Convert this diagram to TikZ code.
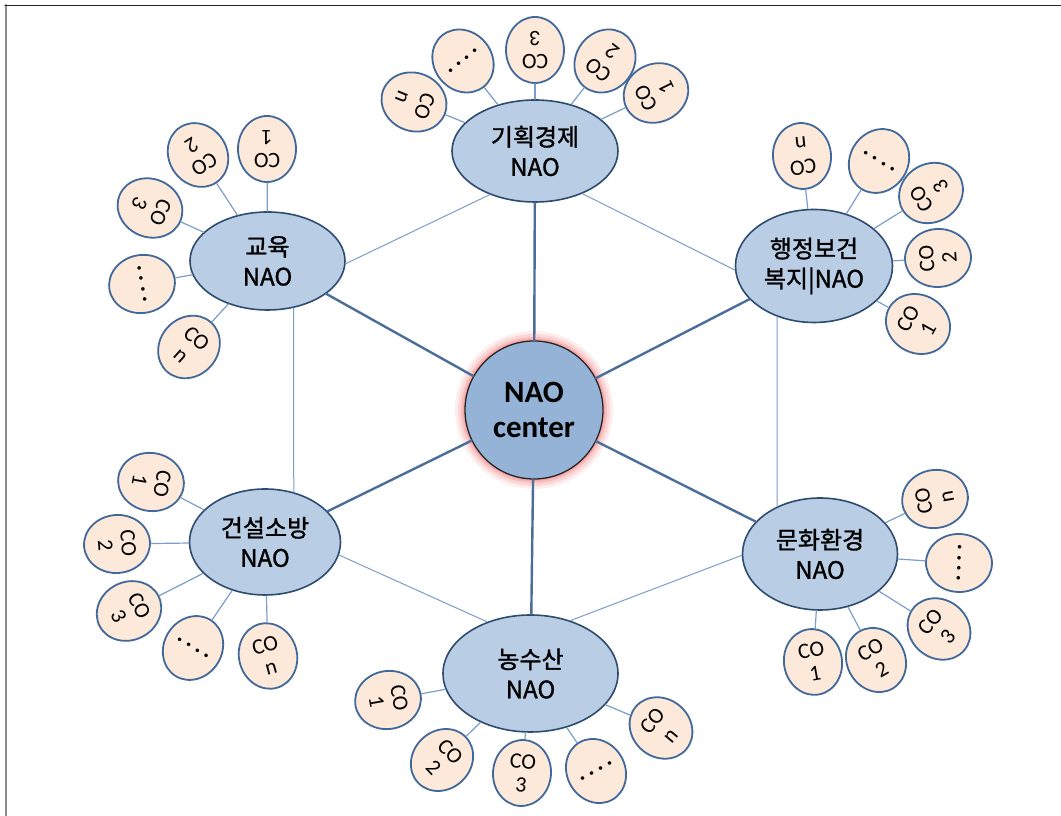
\documentclass[tikz,border=0pt]{standalone}
\usepackage{fontspec}
\setmainfont{Carlito}
\newfontfamily\kr{Noto Sans CJK KR}[FakeBold=1.3]
\usetikzlibrary{shapes.geometric}
\definecolor{naofill}{HTML}{B9CDE5}
\definecolor{naoline}{HTML}{2E4B70}
\definecolor{cofill}{HTML}{FDE9D9}
\definecolor{coline}{HTML}{41689A}
\definecolor{hubfill}{HTML}{95B3D7}
\definecolor{spokeline}{HTML}{4A6D9A}
\definecolor{ringline}{HTML}{7B9DCB}
\definecolor{glow}{HTML}{F07070}
\newcommand{\codots}{{\bfseries\fontsize{24}{24}\selectfont.\,.\,.\,.}}
\begin{document}
\begin{tikzpicture}[x=1pt, y=1pt, line join=round, line cap=round,
	naobox/.style={ellipse, draw=naoline, line width=1.6pt, fill=naofill, inner sep=0pt, align=center, font=\kr\fontsize{24}{30}\selectfont},
	cobox/.style={ellipse, draw=coline, line width=1.8pt, fill=cofill, inner sep=0pt, minimum width=58pt, minimum height=66pt, align=center, font=\fontsize{22}{23}\selectfont},
	spoke/.style={draw=spokeline, line width=2.4pt},
	ring/.style={draw=ringline, line width=1pt},
	stub/.style={draw=ringline, line width=1.2pt}]
	\useasboundingbox (0,0) rectangle (1061,816);
	% frame
	\draw[black!45, line width=2pt] (6,0) -- (6,811);
	\draw[black!85, line width=1.2pt] (5,810.5) -- (1061,810.5);
	\path
	(534,406) coordinate (H)
	(535,665) coordinate (P)
	(267.5,555) coordinate (E)
	(814,550) coordinate (A)
	(265,274) coordinate (B)
	(820,262) coordinate (C)
	(530.5,142.5) coordinate (G)
	;
	% glow round the centre
	\foreach \r/\o in {79/0.12,76/0.18,73/0.25,71/0.3}
	\fill[glow, opacity=\o] (H) circle (\r);
	\node[circle, draw=black!85, line width=1.3pt, fill=hubfill, minimum size=138pt, inner sep=0pt, align=center, font=\bfseries\fontsize{31}{35}\selectfont] (hub) at (H) {NAO\\center};
	% NAO nodes
	\node[naobox, minimum width=166pt, minimum height=102pt] (plan) at (P) {기획경제\\NAO};
	\node[naobox, minimum width=155pt, minimum height=98pt] (edu) at (E) {교육\\NAO};
	\node[naobox, minimum width=157pt, minimum height=113pt] (admin) at (A) {행정보건\\복지|NAO};
	\node[naobox, minimum width=151pt, minimum height=106pt] (build) at (B) {건설소방\\NAO};
	\node[naobox, minimum width=155pt, minimum height=112pt] (cult) at (C) {문화환경\\NAO};
	\node[naobox, minimum width=175pt, minimum height=117pt] (agri) at (G) {농수산\\NAO};
	% CO nodes round each NAO
	\foreach \n/\p/\x/\y/\r/\t in {
		n/plan/414/714/-112/CO\\n, d/plan/463/755/-141/\codots, 3/plan/535/766/180/CO\\3, 2/plan/605/755/142/CO\\2, 1/plan/656/723/116/CO\\1,
		1/edu/267/667/180/CO\\1, 2/edu/198/661/-147/CO\\2, 3/edu/150/608/-114/CO\\3, d/edu/142/532/-80/\codots, n/edu/189/469/-42/CO\\n,
		n/admin/802/660/-174/CO\\n, d/admin/879/655/148/\codots, 3/admin/931/623/122/CO\\3, 2/admin/938/558/94/CO\\2, 1/admin/918/492/61/CO\\1,
		1/build/151/334/-100/CO\\1, 2/build/117/272/-85/CO\\2, 3/build/129/205/-63/CO\\3, d/build/193/168/-32/\codots, n/build/268/160/15/CO\\n,
		n/cult/935/317/100/CO\\n, d/cult/959/253/88/\codots, 3/cult/939/187/50/CO\\3, 2/cult/876/156/30/CO\\2, 1/cult/813/154/10/CO\\1,
		1/agri/388/116/-80/CO\\1, 2/agri/442/56/-46/CO\\2, 3/agri/522/43/-5/CO\\3, d/agri/596/45/30/\codots, n/agri/661/88/50/CO\\n}
	{
		\node[cobox, rotate=\r] (\p\n) at (\x,\y) {\t};
		\draw[stub] (\p\n) -- (\p);
	}
	% spokes and ring
	\foreach \p in {plan,edu,admin,build,cult,agri}
	\draw[spoke] (hub) -- (\p);
	\draw[ring] (edu.-2) -- (plan.-136);
	\draw[ring] (plan.-42) -- (admin.183);
	\draw[ring] (admin.-126) -- (cult.132);
	\draw[ring] (cult.181) -- (agri.53);
	\draw[ring] (agri.130) -- (build.-10);
	\draw[ring] (build.60) -- (edu.-61);
\end{tikzpicture}
\end{document}
